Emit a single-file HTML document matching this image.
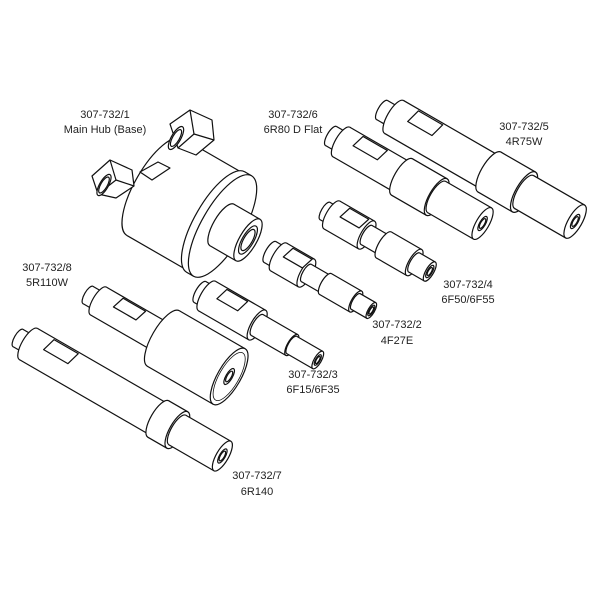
<!DOCTYPE html>
<html><head><meta charset="utf-8"><style>
html,body{margin:0;padding:0;background:#fff;}
svg{display:block;}
text{font-family:"Liberation Sans",sans-serif;font-size:11px;fill:#222;}
</style></head><body>
<svg id="s" width="600" height="600" viewBox="0 0 600 600" xmlns="http://www.w3.org/2000/svg">
<rect width="600" height="600" fill="#fff"/>
<g id="g" fill="#fff" stroke="#111" stroke-width="1.2" stroke-linejoin="round"></g>
<g id="t" text-anchor="middle">
<text x="105" y="118">307-732/1</text><text x="105" y="133">Main Hub (Base)</text>
<text x="293" y="118">307-732/6</text><text x="293" y="133">6R80 D Flat</text>
<text x="524" y="130">307-732/5</text><text x="524" y="145">4R75W</text>
<text x="47" y="271">307-732/8</text><text x="47" y="286">5R110W</text>
<text x="468" y="288">307-732/4</text><text x="468" y="303">6F50/6F55</text>
<text x="397" y="328">307-732/2</text><text x="397" y="344">4F27E</text>
<text x="313" y="378">307-732/3</text><text x="313" y="393">6F15/6F35</text>
<text x="257" y="479">307-732/7</text><text x="257" y="495">6R140</text>
</g>
</svg>
<script>
var g=document.getElementById('g'),NS='http://www.w3.org/2000/svg';
var ux=0.866,uy=0.5,nx=-0.5,ny=0.866,K=0.36;
function el(n,a){var e=document.createElementNS(NS,n);for(var k in a)e.setAttribute(k,a[k]);g.appendChild(e);return e;}
function ell(cx,cy,r,extra){var a={cx:cx,cy:cy,rx:r*K,ry:r,transform:'rotate(30 '+cx+' '+cy+')'};for(var k in extra)a[k]=extra[k];return el('ellipse',a);}
function part(sx,sy,segs,opt){
  opt=opt||{};var t=0,last;
  segs.forEach(function(s,i){
    var L=s[0],r=s[1];
    var ax=sx+ux*t,ay=sy+uy*t,bx=sx+ux*(t+L),by=sy+uy*(t+L);
    ell(ax,ay,r);
    var p=[[ax+nx*r,ay+ny*r],[bx+nx*r,by+ny*r],[bx-nx*r,by-ny*r],[ax-nx*r,ay-ny*r]];
    el('polygon',{points:p.map(function(q){return q.join(',')}).join(' '),stroke:'none'});
    el('line',{x1:p[0][0],y1:p[0][1],x2:p[1][0],y2:p[1][1]});
    el('line',{x1:p[3][0],y1:p[3][1],x2:p[2][0],y2:p[2][1]});
    ell(bx,by,r);
    if(opt.flat&&opt.flat[0]==i){
      var f=opt.flat,a0=t+f[1],a1=a0+f[2];
      var q=[[sx+ux*a0-nx*r*0.15,sy+uy*a0-ny*r*0.15],[sx+ux*a1-nx*r*0.15,sy+uy*a1-ny*r*0.15],
             [sx+ux*(a1+4)-nx*r*0.92,sy+uy*(a1+4)-ny*r*0.92],[sx+ux*(a0+4)-nx*r*0.92,sy+uy*(a0+4)-ny*r*0.92]];
      el('polygon',{points:q.map(function(z){return z.join(',')}).join(' ')});
    }
    t+=L;last=[bx,by,r];
  });
  if(opt.ring)ell(last[0],last[1],last[2]*0.85,{fill:'none','stroke-width':0.8});
  if(opt.hole)ell(last[0],last[1],opt.hole);
  if(opt.hole2)ell(last[0],last[1],opt.hole2);
}
part(155,187,[[70,56],[8,58]]);
part(222,225,[[30,24]],{hole:16,hole2:12});
el('polygon',{points:'92,176 110,160 132,170 134,186 116,198 98,194'});
el('line',{x1:110,y1:160,x2:116,y2:180});el('line',{x1:116,y1:180,x2:134,y2:186});el('line',{x1:116,y1:180,x2:98,y2:194});
ell(104,185,12);ell(104,185,9);
el('polygon',{points:'170,124 190,110 212,120 214,140 196,155 178,148'});
el('line',{x1:190,y1:110,x2:194,y2:134});el('line',{x1:194,y1:134,x2:214,y2:140});el('line',{x1:194,y1:134,x2:178,y2:148});
ell(176,138,13);ell(176,138,9.5);
el('polygon',{points:'140,172 158,162 170,168 152,180'});
part(382,110,[[14,11],[110,19],[40,23],[59,19]],{flat:[1,14,28],hole:8,hole2:5.5});
part(331,136,[[12,11],[70,17],[40,21],[53,18]],{flat:[1,12,28],hole:8,hole2:5.5});
part(325,211,[[8,10],[40,16],[20,11],[35,15],[18,11]],{flat:[1,8,22],hole:7,hole2:4.5});
part(270,252,[[10,12],[32,16],[22,10],[35,12],[18,9]],{flat:[1,4,22],hole:6,hole2:4});
part(200,292,[[8,12],[58,17],[40,12],[30,10]],{flat:[1,10,24],hole:6,hole2:4});
part(88,295,[[12,10],[75,16],[76,32]],{flat:[1,16,26],ring:1,hole:9,hole2:6});
part(18,338,[[12,10],[150,18],[22,21],[52,17]],{flat:[1,16,28],hole:8,hole2:5.5});
</script>
</body></html>
